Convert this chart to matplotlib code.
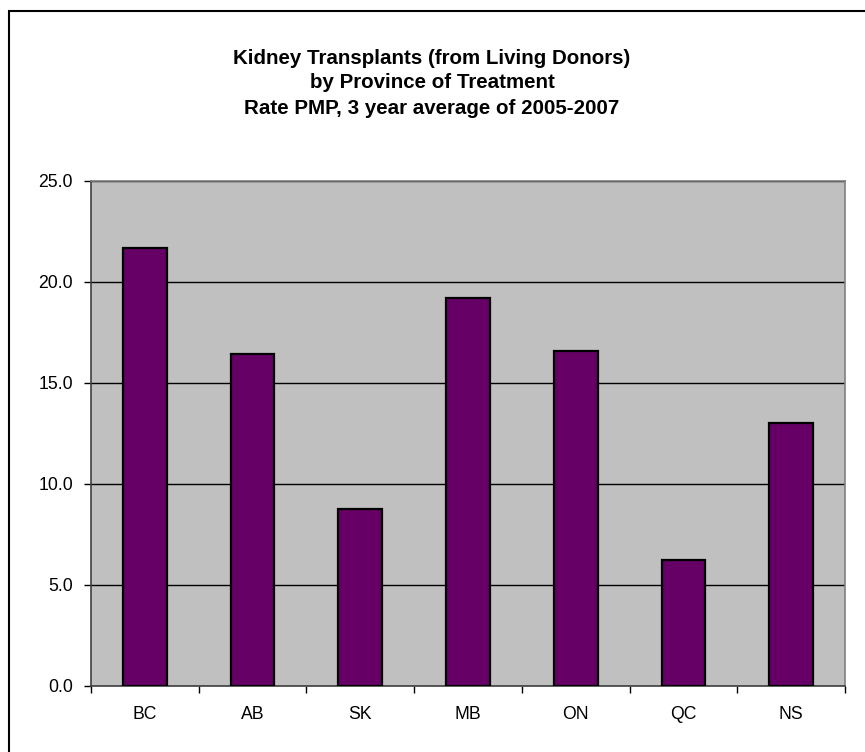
import matplotlib.pyplot as plt
import matplotlib.patches as patches
import numpy as np

plt.rcParams['font.family'] = ['Liberation Sans', 'DejaVu Sans']

provinces = ['BC', 'AB', 'SK', 'MB', 'ON', 'QC', 'NS']
rates = [21.65, 16.42, 8.74, 19.17, 16.58, 6.21, 13.03]
yticks = [0.0, 5.0, 10.0, 15.0, 20.0, 25.0]
title_lines = ['Kidney Transplants (from Living Donors)',
               'by Province of Treatment',
               'Rate PMP, 3 year average of 2005-2007']

W, H = 865, 752
fig = plt.figure(figsize=(W / 100, H / 100), dpi=100)
ax = fig.add_axes([91 / W, 1 - 686 / H, (845 - 91) / W, (686 - 180.5) / H])
ax.set_facecolor('#C0C0C0')

x = np.arange(len(provinces))
ax.bar(x, rates, width=0.405, color='#660066', edgecolor='black', linewidth=1.6, zorder=3)

ax.set_xlim(-0.5, len(provinces) - 0.5)
ax.set_ylim(0, 25)
ax.set_yticks(yticks)
ax.set_yticklabels(['%.1f' % v for v in yticks], fontsize=12.7)
ax.yaxis.grid(True, color='black', linewidth=1.0, zorder=1)
ax.set_axisbelow(True)

ax.set_xticks(x)
ax.set_xticklabels(provinces, fontsize=12.7)
ax.set_xticks(np.arange(len(provinces) + 1) - 0.5, minor=True)
ax.tick_params(axis='x', which='major', length=0, pad=14.5)
ax.tick_params(axis='x', which='minor', length=5, width=1, direction='out', color='black')
ax.tick_params(axis='y', length=5, width=1, direction='out', pad=8, color='black')

for s in ['top', 'right']:
    ax.spines[s].set_color('#808080')
    ax.spines[s].set_linewidth(1.2)
for s in ['left', 'bottom']:
    ax.spines[s].set_color('#404040')
    ax.spines[s].set_linewidth(1.2)

for i, line in enumerate(title_lines):
    fig.text(432 / W, 1 - (58 + 25 * i) / H, line, ha='center', va='center',
             fontsize=14.8, fontweight='bold')

# chart border, right and bottom edges run off the image
fig.patches.append(patches.Rectangle((8.5 / W, -0.01), 1.0, 1 - 10.5 / H + 0.01,
                                     transform=fig.transFigure, fill=False,
                                     edgecolor='black', linewidth=1.5))

fig.savefig('out.png', dpi=100)
